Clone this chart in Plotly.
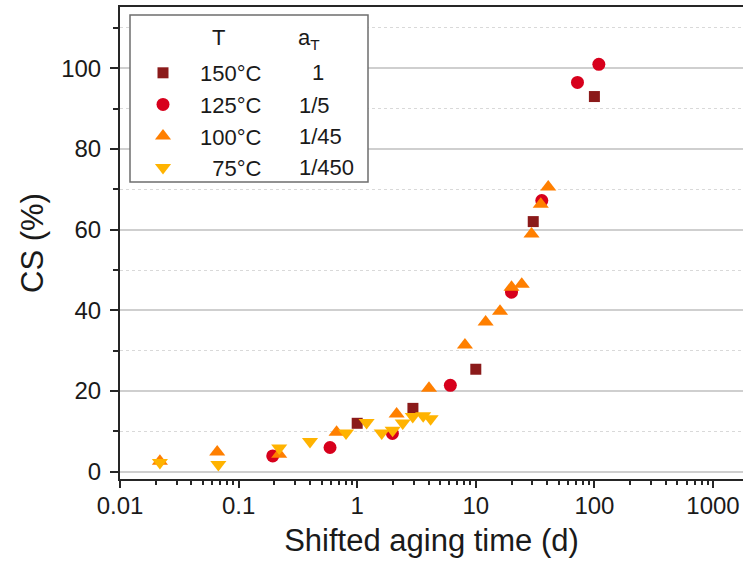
import plotly.graph_objects as go

# ---------------- data ----------------
t150 = [1.0, 2.95, 10.0, 30.5, 100.0]
cs150 = [12.0, 15.7, 25.4, 62.0, 93.0]

t125 = [0.194, 0.59, 1.98, 6.1, 20.0, 36.0, 72.0, 109.0]
cs125 = [3.9, 6.0, 9.5, 21.4, 44.5, 67.2, 96.5, 101.0]

t100 = [0.0217, 0.066, 0.22, 0.67, 2.15, 4.03, 8.1, 12.1, 16.0, 20.0, 24.4, 29.5, 35.3, 40.8]
cs100 = [2.6, 4.9, 4.3, 9.8, 14.3, 20.7, 31.4, 37.1, 39.8, 45.7, 46.5, 58.9, 66.3, 70.6]

t75 = [0.0217, 0.0675, 0.22, 0.40, 0.805, 1.2, 1.61, 1.99, 2.42, 2.94, 3.6, 4.16]
cs75 = [2.3, 1.8, 5.9, 7.5, 9.6, 12.2, 9.6, 10.3, 12.1, 13.7, 13.9, 13.1]

temps = ["150°C", "125°C", "100°C", "  75°C"]
shift_factors = ["1", "1/5", "1/45", "1/450"]

x_tickvals = [0.01, 0.1, 1, 10, 100, 1000]
x_ticktext = ["0.01", "0.1", "1", "10", "100", "1000"]
y_tickvals = [0, 20, 40, 60, 80, 100]

colors = ["#8B1A1A", "#D7001C", "#FF7F00", "#FFB300"]
symbols = ["square", "circle", "triangle-up", "triangle-down"]
sizes = [11, 13, 14, 14]

series = [(t150, cs150), (t125, cs125), (t100, cs100), (t75, cs75)]

# ---------------- layout geometry ----------------
W, H = 743, 563
L, R, T, B = 120, 0, 7, 84
PW, PH = W - L - R, H - T - B

def px(xp):
    return (xp - L) / PW

def py(yp):
    return (H - B - yp) / PH

FONT = "Liberation Sans, Arial, sans-serif"
TXT = "#1a1a1a"

fig = go.Figure()
for (xs, ys), name, col, sym, sz in zip(series, temps, colors, symbols, sizes):
    fig.add_trace(go.Scatter(
        x=xs, y=ys, mode="markers", name=name,
        marker=dict(symbol=sym, color=col, size=sz, line=dict(width=0)),
    ))

axis_col = "#262626"
fig.update_layout(
    width=W, height=H,
    margin=dict(l=L, r=R, t=T, b=B, pad=0),
    paper_bgcolor="white", plot_bgcolor="white",
    font=dict(family=FONT, color=TXT, size=24),
    showlegend=True,
    legend=dict(
        x=px(126), y=py(52), xanchor="left", yanchor="top",
        bgcolor="rgba(0,0,0,0)", borderwidth=0,
        font=dict(family=FONT, size=22, color=TXT),
        itemwidth=64, tracegroupgap=0,
    ),
    xaxis=dict(
        type="log", range=[-2, -2 + PW / 118.6],
        tickvals=x_tickvals, ticktext=x_ticktext,
        ticks="outside", ticklen=7, tickwidth=1.5, tickcolor=axis_col,
        showline=True, linecolor=axis_col, linewidth=2, mirror=True,
        showgrid=False, zeroline=False,
        minor=dict(dtick="D1", ticks="outside", ticklen=4, tickwidth=1.5,
                   tickcolor=axis_col, showgrid=False),
        tickfont=dict(size=24, color=TXT),
        ticklabelstandoff=-3,
        title=dict(text="Shifted aging time (d)", font=dict(size=31), standoff=12),
    ),
    yaxis=dict(
        range=[-1.81, 115.2],
        tickvals=y_tickvals,
        ticks="outside", ticklen=8, tickwidth=1.5, tickcolor=axis_col,
        showline=True, linecolor=axis_col, linewidth=2, mirror=False,
        showgrid=True, gridcolor="#cfcfcf", gridwidth=1.5, zeroline=False,
        minor=dict(tick0=10, dtick=20, ticks="outside", ticklen=5, tickwidth=1.5,
                   tickcolor=axis_col, showgrid=True, gridcolor="#d9d9d9",
                   griddash="dot", gridwidth=1),
        tickfont=dict(size=24, color=TXT),
        ticklabelstandoff=4,
        title=dict(text="CS (%)", font=dict(size=31), standoff=8),
    ),
)

# legend frame
fig.add_shape(type="rect", xref="paper", yref="paper",
              x0=px(130), x1=px(368), y0=py(182), y1=py(15),
              fillcolor="white", line=dict(color="#6e6e6e", width=1.5),
              layer="above")

# legend header and shift-factor column
fig.add_annotation(xref="paper", yref="paper", x=px(218), y=py(37),
                   text="T", showarrow=False, xanchor="center", yanchor="middle",
                   font=dict(family=FONT, size=22, color=TXT))
fig.add_annotation(xref="paper", yref="paper", x=px(309), y=py(39),
                   text="a<sub>T</sub>", showarrow=False, xanchor="center", yanchor="middle",
                   font=dict(family=FONT, size=22, color=TXT))
row_y = [73, 105, 136, 167]
for i, (s, yy) in enumerate(zip(shift_factors, row_y)):
    if i == 0:
        fig.add_annotation(xref="paper", yref="paper", x=px(318), y=py(yy), text=s,
                           showarrow=False, xanchor="center", yanchor="middle",
                           font=dict(family=FONT, size=22, color=TXT))
    else:
        fig.add_annotation(xref="paper", yref="paper", x=px(297), y=py(yy), text=s,
                           showarrow=False, xanchor="left", yanchor="middle",
                           font=dict(family=FONT, size=22, color=TXT))

fig.write_html("out.html")
